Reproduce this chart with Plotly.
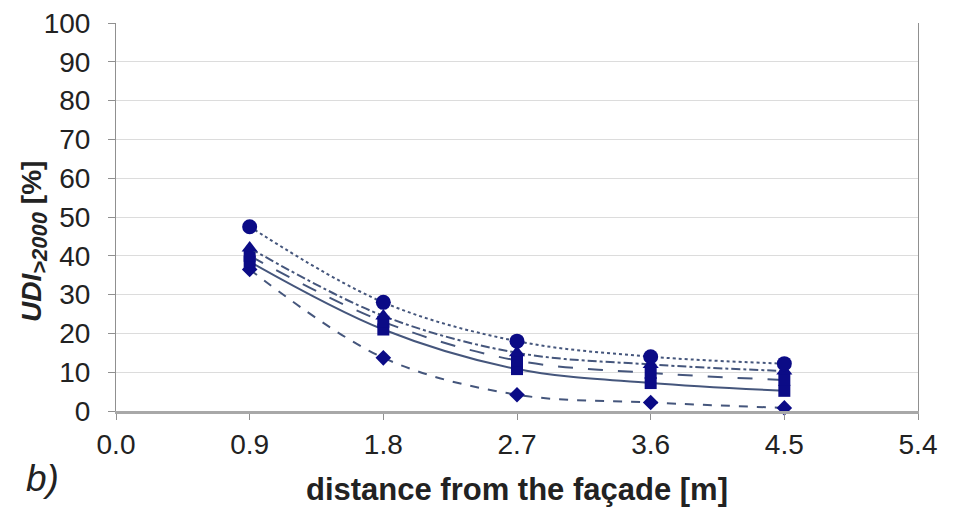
import plotly.graph_objects as go

distance = [0.9, 1.8, 2.7, 3.6, 4.5]
s_dotted = [47.5, 28.0, 18.0, 14.0, 12.2]
s_dashdot = [42.0, 24.5, 15.0, 12.0, 10.3]
s_longdash = [40.0, 23.0, 13.0, 9.8, 8.0]
s_solid = [38.5, 21.0, 10.8, 7.2, 5.2]
s_dash = [36.5, 13.7, 4.2, 2.2, 0.8]
x_ticks = [0.0, 0.9, 1.8, 2.7, 3.6, 4.5, 5.4]
y_ticks = [0, 10, 20, 30, 40, 50, 60, 70, 80, 90, 100]

line_col = "#45567c"
mark_col = "#0b0b86"

series = [
    (s_dash, "dash", "diamond", 12),
    (s_solid, "solid", "square", 12),
    (s_longdash, "longdash", "square", 12),
    (s_dashdot, "dashdot", "triangle-up", 14),
    (s_dotted, "dot", "circle", 15),
]

fig = go.Figure()
for vals, dash, sym, size in series:
    fig.add_trace(go.Scatter(
        x=distance, y=vals, mode="lines+markers",
        line=dict(color=line_col, width=2, dash=dash, shape="spline", smoothing=1.0),
        marker=dict(symbol=sym, size=size, color=mark_col),
        showlegend=False, cliponaxis=False,
    ))

W, H = 956, 513
L, R, T, B = 108, 46, 15, 110
pw, ph = W - L - R, H - T - B

font = "Liberation Sans, Arial, sans-serif"
fig.update_layout(
    width=W, height=H,
    margin=dict(l=L, r=R, t=T, b=B, autoexpand=False),
    paper_bgcolor="white", plot_bgcolor="white",
    font=dict(family=font, color="#222222"),
    xaxis=dict(
        range=[0, 5.4], tickvals=x_ticks, ticktext=[f"{v:.1f}" for v in x_ticks],
        showgrid=False, zeroline=False, showline=True, linecolor="#a8a8a8", linewidth=3,
        mirror=False, ticks="outside", ticklen=6, tickcolor="#909090", automargin=False,
        tickfont=dict(size=28, color="#222222"),
        title=dict(text="<b>distance from the façade [m]</b>", font=dict(size=31), standoff=20),
    ),
    yaxis=dict(
        range=[0, 100.001], tickvals=y_ticks, showgrid=True, gridcolor="#dcdcdc", gridwidth=1,
        zeroline=False, showline=True, linecolor="#909090", linewidth=1, mirror=True,
        ticks="outside", ticklen=7, tickcolor="#909090", automargin=False,
        ticklabelstandoff=12, ticklabeloverflow="allow",
        tickfont=dict(size=28, color="#222222"),
    ),
    annotations=[
        dict(
            text="<i>b)</i>", x=(34 - L) / pw, y=(H - B - 470) / ph, xref="paper", yref="paper",
            showarrow=False, xanchor="center", yanchor="middle",
            font=dict(size=37, color="#222222", family=font),
        ),
        dict(
            text="<b><i>UDI</i><sub><i><span style='font-size:22px'>&gt;2000</span></i></sub> [%]</b>",
            x=(26 - L) / pw, y=(H - B - 234) / ph, xref="paper", yref="paper",
            showarrow=False, xanchor="center", yanchor="middle", textangle=-90,
            font=dict(size=28, color="#222222", family=font),
        ),
    ],
)

fig.write_html("out.html")
